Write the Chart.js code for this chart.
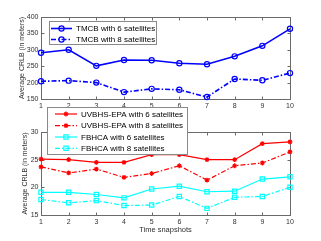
<!DOCTYPE html>
<html><head><meta charset="utf-8">
<script src="https://cdn.jsdelivr.net/npm/chart.js@4.4.1/dist/chart.umd.min.js"></script>
<style>
html,body{margin:0;padding:0;background:#fff;}
#wrap{position:relative;width:321px;height:241px;overflow:hidden;background:#fff;}
#c1{position:absolute;left:0;top:0;z-index:1;}
#c2{position:absolute;left:0;top:100px;z-index:2;}
</style></head><body>
<div id="wrap"><canvas id="c1" width="321" height="115"></canvas><canvas id="c2" width="321" height="141"></canvas></div>
<script>
const snapshots = ['1','2','3','4','5','6','7','8','9','10'];
const tmcb6  = [291, 300, 251, 269, 268, 259, 256, 280, 312, 364];
const tmcb8  = [204, 206, 200, 171, 181, 178, 156, 211, 207, 229];
const uvbhs6 = [25.1, 25.0, 24.5, 24.5, 25.9, 25.9, 25.0, 25.0, 27.9, 28.2];
const uvbhs8 = [23.7, 22.6, 23.3, 21.8, 22.5, 23.9, 21.3, 23.9, 24.4, 26.4];
const fbhca6 = [19.1, 19.1, 18.7, 18.1, 19.7, 20.2, 19.2, 19.3, 21.5, 21.9];
const fbhca8 = [17.8, 17.2, 17.6, 16.7, 16.8, 18.35, 16.2, 18.2, 18.35, 20.0];
const topRange = [150, 400, 50];
const bottomRange = [15, 30, 5];
const yTitle = 'Average CRLB (in meters)';
const xTitle = 'Time snapshots';

const FONT = "'Liberation Sans', Arial, Helvetica, sans-serif";
const AXC = '#303030';
const FRC = '#6a6a6a';
const DASHDOT = [5, 2, 1.5, 2];

function drawMarker(ctx, style, x, y, r, color, lw) {
  ctx.save();
  ctx.strokeStyle = color; ctx.lineWidth = lw; ctx.setLineDash([]);
  ctx.beginPath();
  if (style === 'circle') { ctx.arc(x, y, r, 0, Math.PI * 2); }
  else if (style === 'rect') { const s = Math.SQRT1_2 * r; ctx.rect(x - s, y - s, 2 * s, 2 * s); }
  else if (style === 'star') {
    ctx.moveTo(x - r, y); ctx.lineTo(x + r, y); ctx.moveTo(x, y - r); ctx.lineTo(x, y + r);
    const d = r * Math.SQRT1_2;
    ctx.moveTo(x - d, y - d); ctx.lineTo(x + d, y + d); ctx.moveTo(x - d, y + d); ctx.lineTo(x + d, y - d);
  }
  ctx.stroke(); ctx.restore();
}

const framePlugin = {
  id: 'frame',
  beforeDatasetsDraw(chart) {
    const {ctx, chartArea: a, scales: {x, y}} = chart;
    const l = Math.round(a.left) + 0.5, r = Math.round(a.right) + 0.5;
    const t = Math.round(a.top) + 0.5, b = Math.round(a.bottom) + 0.5;
    ctx.save();
    ctx.strokeStyle = FRC; ctx.lineWidth = 1;
    ctx.strokeRect(l, t, r - l, b - t);
    const L = 3;
    ctx.beginPath();
    x.ticks.forEach((tk, i) => { const p = Math.round(x.getPixelForTick(i)) + 0.5;
      ctx.moveTo(p, b); ctx.lineTo(p, b - L); ctx.moveTo(p, t); ctx.lineTo(p, t + L); });
    y.ticks.forEach((tk, i) => { const p = Math.round(y.getPixelForTick(i)) + 0.5;
      ctx.moveTo(l, p); ctx.lineTo(l + L, p); ctx.moveTo(r, p); ctx.lineTo(r - L, p); });
    ctx.stroke(); ctx.restore();
  }
};

const legendPlugin = {
  id: 'boxLegend',
  afterDraw(chart, args, opts) {
    const ctx = chart.ctx;
    ctx.save();
    ctx.fillStyle = '#fff'; ctx.strokeStyle = '#8a8a8a'; ctx.lineWidth = 1;
    ctx.fillRect(opts.x, opts.y, opts.w, opts.h);
    ctx.strokeRect(opts.x + 0.5, opts.y + 0.5, opts.w, opts.h);
    chart.data.datasets.forEach((ds, i) => {
      const ry = opts.rows[i];
      ctx.strokeStyle = ds.borderColor; ctx.lineWidth = ds.borderWidth;
      ctx.setLineDash(ds.borderDash || []);
      ctx.beginPath(); ctx.moveTo(opts.l0, ry); ctx.lineTo(opts.l1, ry); ctx.stroke();
      ctx.setLineDash([]);
      drawMarker(ctx, ds.pointStyle, (opts.l0 + opts.l1) / 2, ry, ds.pointRadius, ds.borderColor, ds.pointBorderWidth);
      ctx.fillStyle = '#000'; ctx.font = '8px ' + FONT; ctx.textBaseline = 'middle'; ctx.textAlign = 'left';
      ctx.fillText(ds.label, opts.tx, ry + 0.5);
    });
    ctx.restore();
  }
};

function mkDs(label, data, color, dash, style, r, bw) {
  return { label, data, borderColor: color, backgroundColor: color, borderWidth: bw,
    borderDash: dash, pointStyle: style, pointRadius: r, pointBorderWidth: 1.2,
    pointBorderColor: color, pointBackgroundColor: 'rgba(0,0,0,0)', tension: 0, clip: false };
}

function mkOptions(range, titlePad, xTitleShow, xH, padTop, legend) {
  return {
    responsive: false, animation: false, devicePixelRatio: 1,
    layout: { padding: { top: padTop, right: 31, left: 0, bottom: 0 } },
    plugins: { legend: { display: false }, tooltip: { enabled: false }, boxLegend: legend },
    scales: {
      x: { type: 'category', offset: false,
        grid: { display: false, drawTicks: false }, border: { display: false },
        ticks: { autoSkip: false, maxRotation: 0, padding: 3, color: AXC, font: { size: 7, family: FONT } },
        title: { display: xTitleShow, text: xTitle, color: AXC, padding: { top: 0, bottom: 7 }, font: { size: 7.5, family: FONT } },
        afterFit(s) { s.height = xH; } },
      y: { type: 'linear', min: range[0], max: range[1],
        grid: { display: false, drawTicks: false }, border: { display: false },
        ticks: { stepSize: range[2], padding: 2.5, color: AXC, font: { size: 7, family: FONT } },
        title: { display: true, text: yTitle, color: AXC, padding: { top: titlePad, bottom: 0 }, font: { size: 7, family: FONT } },
        afterFit(s) { s.width = 41; } }
    }
  };
}

new Chart(document.getElementById('c1'), {
  type: 'line',
  data: { labels: snapshots, datasets: [
    mkDs('TMCB with 6 satellites', tmcb6, '#0000ff', [], 'circle', 2.6, 1.6),
    mkDs('TMCB with 8 satellites', tmcb8, '#0000ff', DASHDOT, 'circle', 2.6, 1.6)
  ]},
  options: mkOptions(topRange, 17.5, false, 16, 17,
    { x: 49, y: 21, w: 107, h: 23, l0: 51, l1: 72, tx: 76, rows: [28.5, 39.5] }),
  plugins: [framePlugin, legendPlugin]
});

new Chart(document.getElementById('c2'), {
  type: 'line',
  data: { labels: snapshots, datasets: [
    mkDs('UVBHS-EPA with 6 satellites', uvbhs6, '#ff0000', [], 'star', 2.4, 1.2),
    mkDs('UVBHS-EPA with 8 satellites', uvbhs8, '#ff0000', DASHDOT, 'star', 2.4, 1.2),
    mkDs('FBHCA with 6 satellites', fbhca6, '#00ffff', [], 'rect', 3, 1.2),
    mkDs('FBHCA with 8 satellites', fbhca8, '#00ffff', DASHDOT, 'rect', 3, 1.2)
  ]},
  options: mkOptions(bottomRange, 20.5, true, 26, 32,
    { x: 47, y: 7, w: 140, h: 47, l0: 55, l1: 77, tx: 81, rows: [14, 25.7, 37, 48.3] }),
  plugins: [framePlugin, legendPlugin]
});
</script>
</body></html>
